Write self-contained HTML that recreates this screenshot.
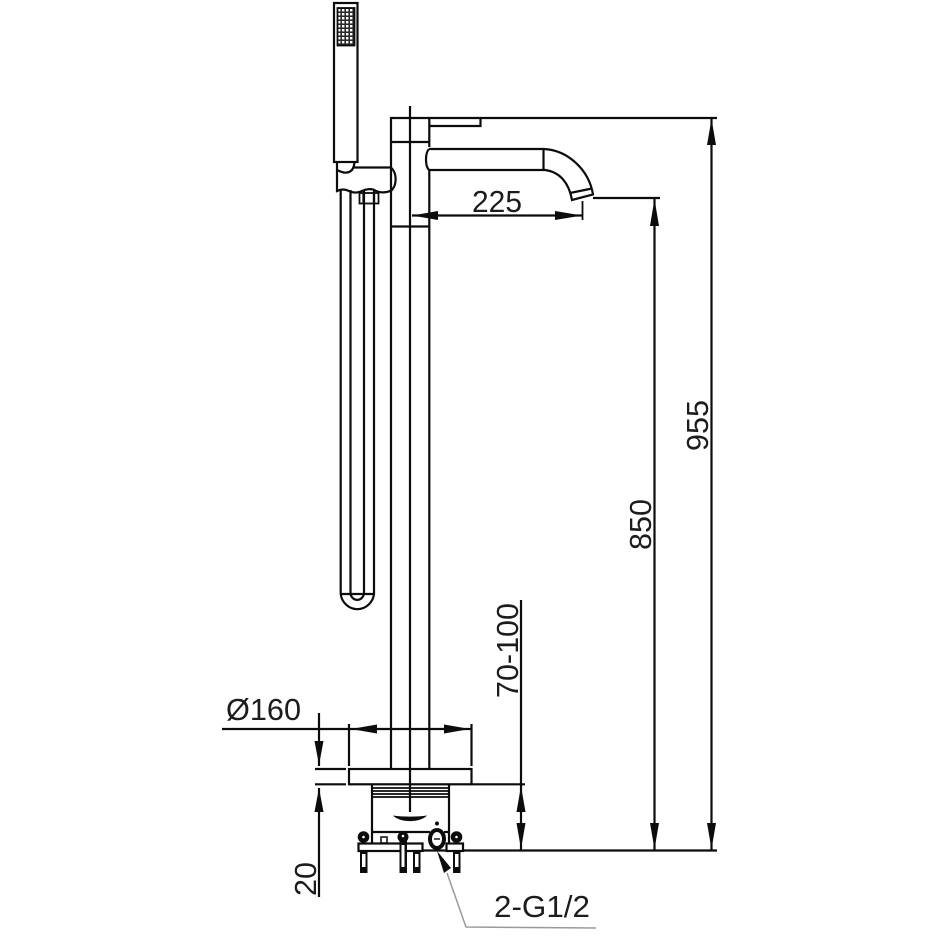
<!DOCTYPE html>
<html>
<head>
<meta charset="utf-8">
<style>
html,body{margin:0;padding:0;background:#fff;width:936px;height:936px;overflow:hidden}
svg{display:block}
text{font-family:"Liberation Sans",sans-serif;font-size:31px;fill:#1c1c1c}
</style>
</head>
<body>
<svg width="936" height="936" viewBox="0 0 936 936" xmlns="http://www.w3.org/2000/svg">
<defs>
<pattern id="g" x="337" y="8" width="4" height="4" patternUnits="userSpaceOnUse">
<rect width="4" height="4" fill="#2a2a2a"/><rect x="1" y="1" width="2.4" height="2.4" fill="#fff"/>
</pattern>
</defs>
<g fill="none" stroke="#0c0c0c" stroke-width="2.2">
<!-- hand shower -->
<rect x="334" y="3" width="23.500" height="159"/>
<rect x="337.500" y="8" width="17" height="37.500" fill="url(#g)" stroke-width="1.800"/>
<!-- holder -->
<path d="M337 170V191C341 189 345 189 349 191C353 193 358 193 362 191C366 189 372 188 376 191C380 193 387 193 392 190C397 184 397 173 391 167.500H354"/>
<path d="M337 162V170C341 172 345 173 347 172.500C351 172 354 169 354.500 162"/>
<!-- hose -->
<path d="M340.700 190V594A16.800 17.500 0 0 0 374 594V190"/>
<path d="M350.500 190V594A7 8 0 0 0 364 594V190"/>
<path d="M340.700 594H374"/>
<rect x="359.500" y="193" width="19" height="10.500" stroke-width="1.800"/>
<path d="M363.500 193V204M374 193V204" stroke-width="2.200"/>
<!-- riser -->
<path d="M391 769V118H429.300V147M429.300 170V769"/>
<path d="M410 106V812"/>
<path d="M391 142H429.300M391 226.500H429.300"/>
<!-- lever -->
<path d="M429.300 126H480.500V118"/>
<!-- spout -->
<path d="M429 149C425 153 425 166 429 170H545C560 172 569 183 572 200L593 194.500C589 170 568 150 543.500 149H429"/>
<path d="M543.500 149V170"/>
<path d="M570 193L592 188.500"/>
<!-- extension -->
<path d="M429.300 118H717"/>
<path d="M593 198H660"/>
<path d="M412 215.500H582"/>
<path d="M582.500 201V220" stroke-width="1.800"/>
<!-- flange -->
<rect x="349" y="769" width="122.500" height="15.300"/>
<path d="M349 724V766M471.500 724V766"/>
<path d="M222 729H471"/>
<path d="M319 713V766M319 788V897"/>
<path d="M315 769H346M315 784.300H346"/>
<path d="M471 784.300H525"/>
<path d="M521 600V850"/>
<path d="M654.500 199V850M711.500 119V850"/>
<path d="M463 850.500H717"/>
<!-- base body -->
<path d="M372 785V843M449 785V843"/>
<path d="M372 788H449M372 791H449M372 794H449M372 797H449" stroke-width="1.700"/>
<path d="M372 832H430M444 832H449"/>
<!-- plates -->
<rect x="358.500" y="843.500" width="64" height="7.500"/>
<rect x="446.500" y="843.500" width="16.500" height="7.500"/>
<path d="M423 850.500H447"/>
<rect x="381" y="837" width="6" height="6" stroke-width="1.500"/>
</g>
<ellipse cx="437" cy="839" rx="7" ry="9" fill="#fff" stroke="#0c0c0c" stroke-width="4"/>
<path d="M434 839H440" stroke="#0c0c0c" stroke-width="1.400"/>
<!-- bolts -->
<g fill="#0c0c0c">
<rect x="360" y="851" width="7.500" height="22"/>
<rect x="399.500" y="840" width="7.500" height="33"/>
<rect x="413" y="851" width="7.500" height="22"/>
<rect x="453" y="851" width="7.500" height="22"/>
<circle cx="363.500" cy="837" r="5.800"/>
<circle cx="403" cy="837" r="5.500"/>
<circle cx="456.500" cy="837" r="5.800"/>
<circle cx="437" cy="823.500" r="2"/>
<path d="M393 815.500C403 817 417 817 427 815.500C420 823 400 823 393 815.500Z"/>
<path d="M437 851L451 868L444 873Z"/>
<!-- arrowheads -->
<path d="M412 215.500L438 211V220Z"/>
<path d="M582 215.500L555 211V220Z"/>
<path d="M351 729L377 724.500V733.500Z"/>
<path d="M470 729L444 724.500V733.500Z"/>
<path d="M319 765L314.500 741H323.500Z"/>
<path d="M319 788L314.500 812H323.500Z"/>
<path d="M521 786L516.500 812H525.500Z"/>
<path d="M521 849L516.500 823H525.500Z"/>
<path d="M654.500 199L650 226H659Z"/>
<path d="M654.500 849L650 823H659Z"/>
<path d="M711.500 119L707 145H716Z"/>
<path d="M711.500 849L707 823H716Z"/>
</g>
<g fill="#fff">
<rect x="362" y="854" width="3.500" height="13"/>
<rect x="401.500" y="845" width="3" height="22"/>
<rect x="415" y="854" width="3.500" height="13"/>
<rect x="455" y="854" width="3.500" height="13"/>
<circle cx="363.500" cy="837" r="1.300"/>
<circle cx="403" cy="836" r="1.300"/>
<circle cx="456.500" cy="837" r="1.300"/>
</g>
<!-- leader -->
<path d="M447 873L466 927L596 928" fill="none" stroke="#9a9a9a" stroke-width="1.500"/>
<!-- labels -->
<text x="472" y="212" textLength="50" lengthAdjust="spacingAndGlyphs">225</text>
<text x="226" y="720" textLength="75" lengthAdjust="spacingAndGlyphs">Ø160</text>
<text x="494" y="917" textLength="96" lengthAdjust="spacingAndGlyphs">2-G1/2</text>
<text transform="translate(708 451) rotate(-90)" textLength="51" lengthAdjust="spacingAndGlyphs">955</text>
<text transform="translate(651 550) rotate(-90)" textLength="51" lengthAdjust="spacingAndGlyphs">850</text>
<text transform="translate(518 698) rotate(-90)" textLength="95" lengthAdjust="spacingAndGlyphs">70-100</text>
<text transform="translate(316 896) rotate(-90)" textLength="34" lengthAdjust="spacingAndGlyphs">20</text>
</svg>
</body>
</html>
